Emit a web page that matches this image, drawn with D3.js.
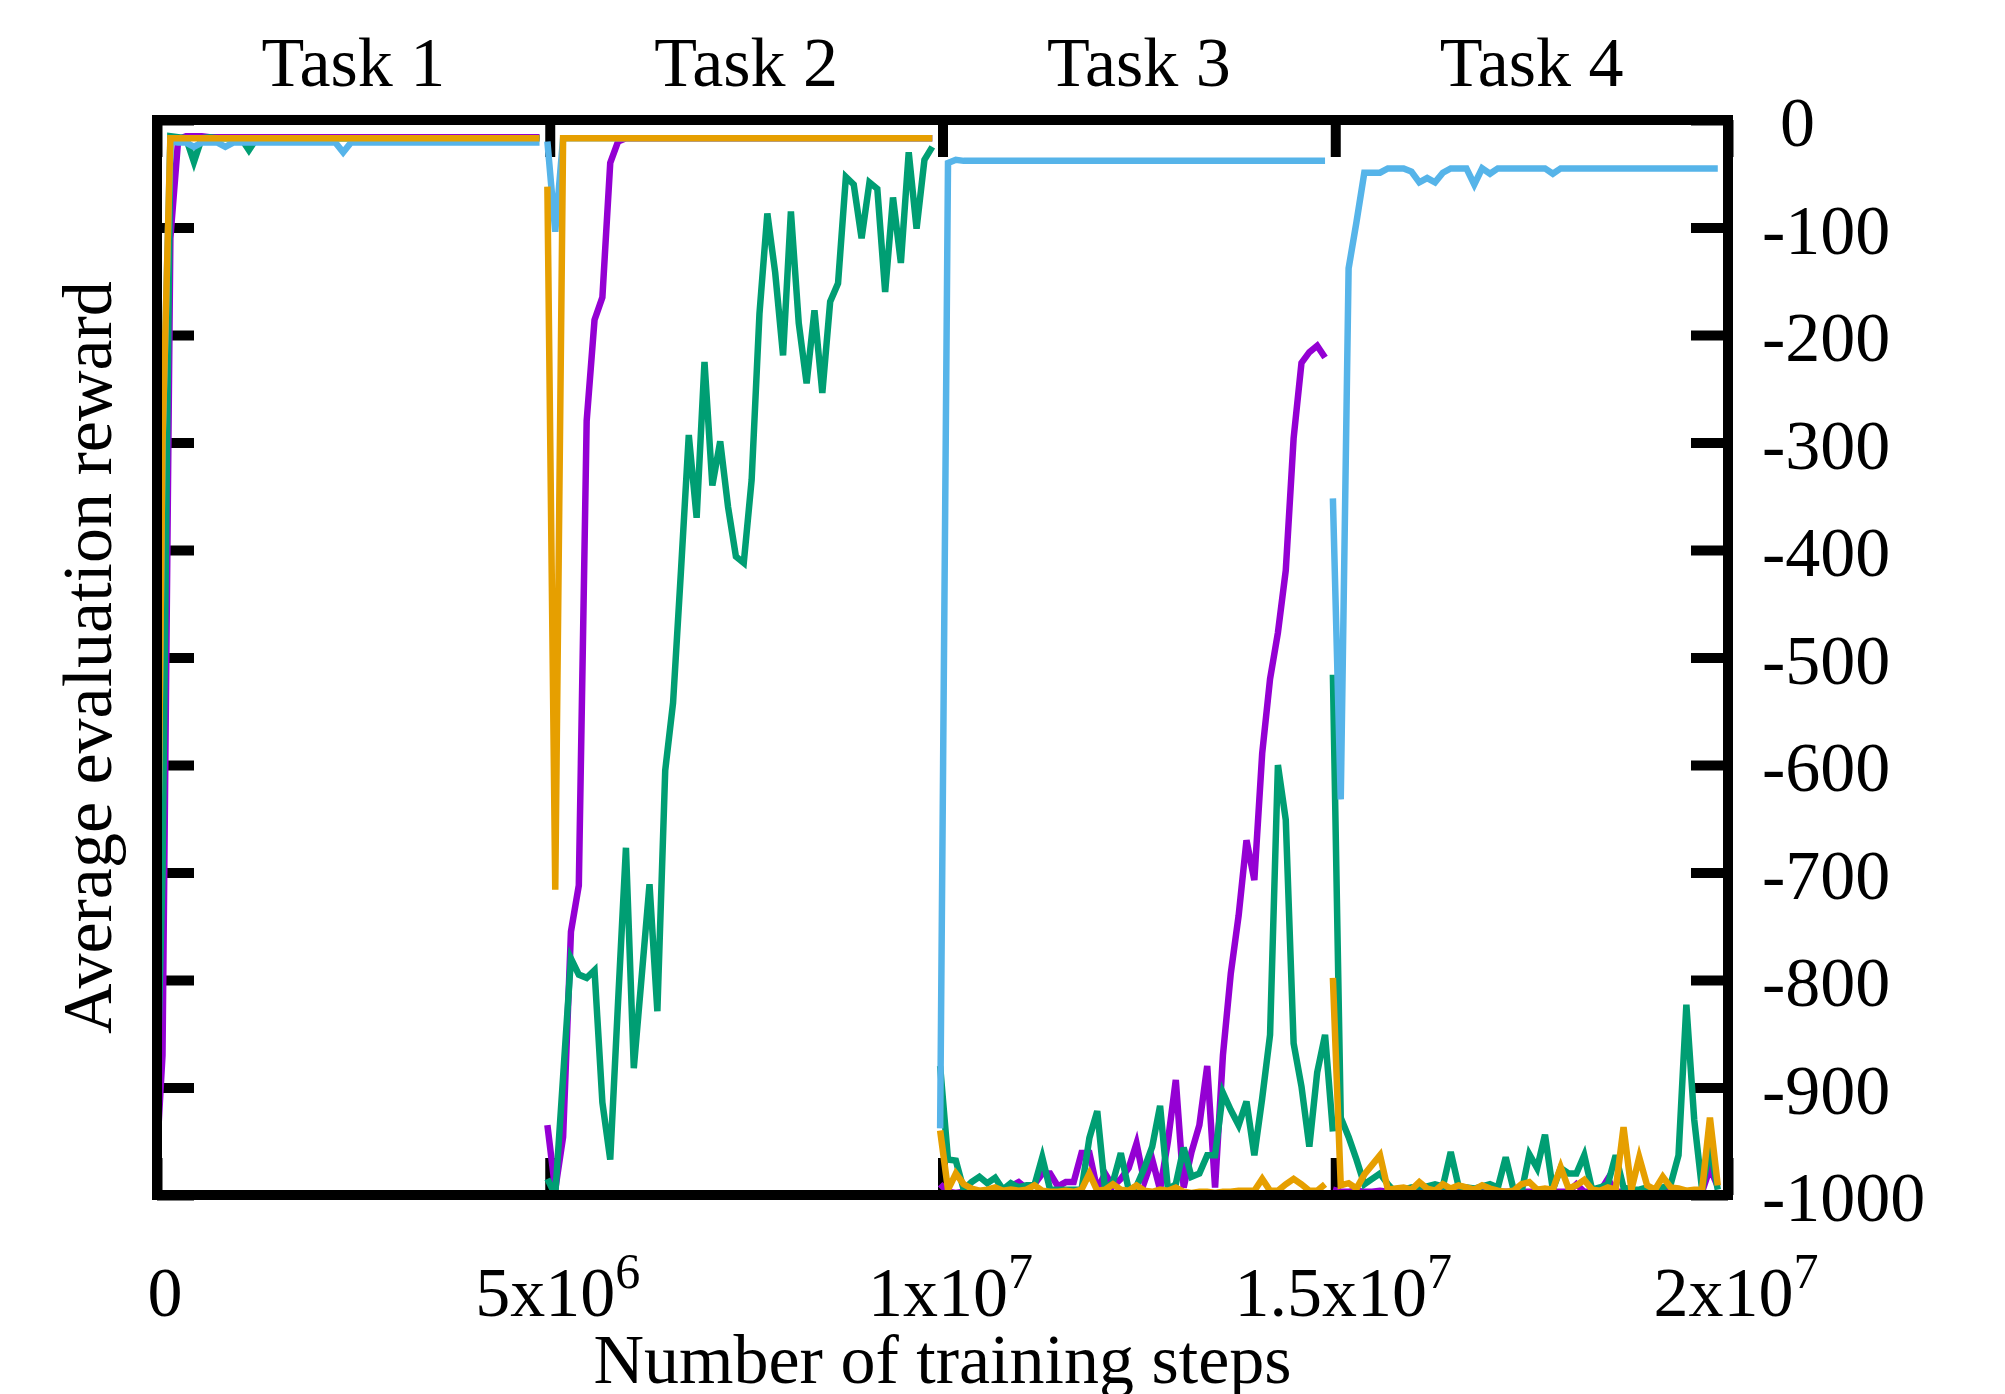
<!DOCTYPE html>
<html>
<head>
<meta charset="utf-8">
<script src="https://cdn.jsdelivr.net/npm/d3@7"></script>
<style>
  body { margin: 0; background: #fff; }
  text { font-family: "Liberation Serif", "Times New Roman", serif; fill: #000; }
</style>
</head>
<body>
<script>
// tasks, ticks and labels
var taskNames = ["Task 1", "Task 2", "Task 3", "Task 4"];
var taskLength = 5000000;
var evalEvery = 100000;
var evalShift = -30000;
var yTickValues = [0, -100, -200, -300, -400, -500, -600, -700, -800, -900, -1000];
var xTickValues = [0, 5000000, 10000000, 15000000, 20000000];
var xTickBase = ["0", "5x10", "1x10", "1.5x10", "2x10"];
var xTickExp = ["", "6", "7", "7", "7"];

// average evaluation reward, one value every 1e5 steps, per task
var purpleTask1 = [-1000, -870, -110, -18, -15, -15, -15, -16, -16, -16,
  -16, -16, -16, -16, -16, -16, -16, -16, -16, -16,
  -16, -16, -16, -16, -16, -16, -16, -16, -16, -16,
  -16, -16, -16, -16, -16, -16, -16, -16, -16, -16,
  -16, -16, -16, -16, -16, -16, -16, -16, -16, -16];
var purpleTask2 = [-935, -995, -946, -755, -712, -280, -186, -165, -40, -20,
  -17, -17, -17, -17, -17, -17, -17, -17, -17, -17,
  -17, -17, -17, -17, -17, -17, -17, -17, -17, -17,
  -17, -17, -17, -17, -17, -17, -17, -17, -17, -17,
  -17, -17, -17, -17, -17, -17, -17, -17, -17, -17];
var purpleTask3 = [-990, -997, -998, -997, -996, -998, -996, -997, -996, -992,
  -988, -994, -990, -980, -980, -992, -988, -988, -961, -961,
  -995, -980, -992, -985, -975, -952, -988, -967, -995, -950,
  -893, -993, -960, -935, -880, -993, -870, -794, -740, -670,
  -707, -589, -520, -477, -419, -296, -226, -216, -210, -221];
var purpleTask4 = [-995, -997, -997, -996, -997, -997, -996, -997, -997, -997,
  -997, -997, -997, -997, -997, -997, -997, -997, -997, -997,
  -997, -997, -997, -997, -997, -997, -997, -997, -997, -997,
  -997, -990, -997, -997, -997, -985, -997, -997, -997, -997,
  -997, -997, -997, -997, -997, -997, -997, -997, -975, -992];

var greenTask1 = [-1000, -700, -15, -16, -17, -39, -17, -16, -17, -17,
  -17, -17, -28, -17, -17, -17, -17, -17, -17, -17,
  -17, -17, -17, -17, -17, -17, -17, -17, -17, -17,
  -17, -17, -17, -17, -17, -17, -17, -17, -17, -17,
  -17, -17, -17, -17, -17, -17, -17, -17, -17, -17];
var greenTask2 = [-985, -1000, -890, -780, -795, -798, -791, -914, -967, -820,
  -677, -882, -797, -711, -829, -605, -542, -420, -293, -370,
  -225, -340, -299, -360, -406, -412, -335, -180, -87, -142,
  -219, -85, -189, -245, -177, -254, -169, -152, -53, -60,
  -110, -58, -64, -160, -72, -133, -30, -101, -37, -25];
var greenTask3 = [-880, -967, -968, -995, -988, -983, -989, -984, -995, -989,
  -993, -991, -991, -965, -995, -995, -995, -995, -995, -947,
  -922, -995, -988, -961, -995, -992, -975, -955, -917, -995,
  -990, -956, -983, -980, -963, -963, -905, -921, -935, -913,
  -963, -910, -851, -600, -651, -859, -899, -955, -886, -851, -941];
var greenTask4 = [-516, -928, -946, -967, -990, -985, -980, -990, -998, -995,
  -993, -992, -992, -990, -992, -960, -992, -993, -994, -992,
  -990, -993, -965, -995, -998, -962, -975, -944, -995, -975,
  -980, -980, -963, -995, -993, -990, -963, -993, -995, -995,
  -993, -995, -993, -990, -963, -823, -930, -995, -955, -995];

var blueTask1 = [-1000, -300, -20, -21, -21, -25, -21, -21, -21, -25,
  -21, -21, -21, -21, -21, -21, -21, -21, -21, -21,
  -21, -21, -21, -21, -30, -21, -21, -21, -21, -21,
  -21, -21, -21, -21, -21, -21, -21, -21, -21, -21,
  -21, -21, -21, -21, -21, -21, -21, -21, -21, -21];
var blueTask2 = [-20, -104, -17, -17, -17, -17, -17, -17, -17, -17,
  -17, -17, -17, -17, -17, -17, -17, -17, -17, -17,
  -17, -17, -17, -17, -17, -17, -17, -17, -17, -17,
  -17, -17, -17, -17, -17, -17, -17, -17, -17, -17,
  -17, -17, -17, -17, -17, -17, -17, -17, -17, -17];
var blueTask3 = [-938, -40, -37, -38, -38, -38, -38, -38, -38, -38,
  -38, -38, -38, -38, -38, -38, -38, -38, -38, -38,
  -38, -38, -38, -38, -38, -38, -38, -38, -38, -38,
  -38, -38, -38, -38, -38, -38, -38, -38, -38, -38,
  -38, -38, -38, -38, -38, -38, -38, -38, -38, -38];
var blueTask4 = [-352, -632, -138, -95, -49, -49, -49, -45, -45, -45,
  -48, -58, -54, -58, -49, -45, -45, -45, -60, -45,
  -50, -45, -45, -45, -45, -45, -45, -45, -50, -45,
  -45, -45, -45, -45, -45, -45, -45, -45, -45, -45,
  -45, -45, -45, -45, -45, -45, -45, -45, -45, -45];

var orangeTask1 = [-1000, -300, -17, -17, -17, -17, -17, -17, -17, -17,
  -17, -17, -17, -17, -17, -17, -17, -17, -17, -17,
  -17, -17, -17, -17, -17, -17, -17, -17, -17, -17,
  -17, -17, -17, -17, -17, -17, -17, -17, -17, -17,
  -17, -17, -17, -17, -17, -17, -17, -17, -17, -17];
var orangeTask2 = [-62, -716, -17, -17, -17, -17, -17, -17, -17, -17,
  -17, -17, -17, -17, -17, -17, -17, -17, -17, -17,
  -17, -17, -17, -17, -17, -17, -17, -17, -17, -17,
  -17, -17, -17, -17, -17, -17, -17, -17, -17, -17,
  -17, -17, -17, -17, -17, -17, -17, -17, -17, -17];
var orangeTask3 = [-940, -995, -980, -990, -994, -996, -995, -993, -996, -995,
  -996, -995, -991, -996, -997, -997, -996, -997, -995, -980,
  -996, -995, -990, -995, -996, -991, -996, -997, -995, -996,
  -993, -997, -998, -997, -997, -998, -997, -997, -996, -996,
  -996, -985, -996, -996, -990, -985, -990, -996, -996, -990];
var orangeTask4 = [-798, -991, -989, -994, -981, -972, -963, -995, -994, -993,
  -995, -988, -994, -996, -990, -994, -991, -993, -995, -991,
  -994, -996, -997, -996, -990, -988, -995, -994, -995, -974,
  -994, -991, -986, -995, -996, -993, -995, -937, -995, -965,
  -991, -995, -983, -993, -994, -996, -995, -995, -928, -991];

var seriesColors = ["#9400d3", "#009e73", "#56b4e9", "#e69f00"];
var seriesRuns = [
  [purpleTask1, purpleTask2, purpleTask3, purpleTask4],
  [greenTask1, greenTask2, greenTask3, greenTask4],
  [blueTask1, blueTask2, blueTask3, blueTask4],
  [orangeTask1, orangeTask2, orangeTask3, orangeTask4]
];

// size of svg and plot area
var margin = {top: 120, right: 277, bottom: 199, left: 157};
var fullwidth = 2005;
var fullheight = 1394;
var width = fullwidth - margin.left - margin.right;
var height = fullheight - margin.top - margin.bottom;

var svg = d3.select("body")
  .append("svg")
   .attr("width", fullwidth)
   .attr("height", fullheight);

svg.append("rect")
  .attr("width", fullwidth)
  .attr("height", fullheight)
  .attr("fill", "#fff");

var plot = svg.append("g")
  .attr("transform", "translate(" + margin.left + "," + margin.top + ")");

var xscale = d3.scaleLinear()
  .domain([0, 20000000])
  .range([0, width]);

var yscale = d3.scaleLinear()
  .domain([-1000, 0])
  .range([height, 0]);

// tick marks, all pointing inwards
var tickLen = 37;

plot.append("g")
  .attr("class", "axis")
  .call(d3.axisLeft(yscale).tickValues(yTickValues).tickSize(-tickLen).tickFormat(""));

var yRight = plot.append("g")
  .attr("class", "axis")
  .attr("transform", "translate(" + width + ",0)")
  .call(d3.axisRight(yscale).tickValues(yTickValues).tickSize(-tickLen).tickPadding(34)
    .tickFormat(function(d) { return String(d); }));

plot.append("g")
  .attr("class", "axis")
  .call(d3.axisTop(xscale).tickValues(xTickValues).tickSize(-tickLen).tickFormat(""));

plot.append("g")
  .attr("class", "axis")
  .attr("transform", "translate(0," + height + ")")
  .call(d3.axisBottom(xscale).tickValues(xTickValues).tickSize(-tickLen).tickFormat(""));

plot.selectAll(".axis .domain").remove();
plot.selectAll(".axis line")
  .attr("stroke", "#000")
  .attr("stroke-width", 10);

yRight.selectAll("text")
  .attr("font-size", 70)
  .attr("dy", "0.37em")
  .attr("font-family", "Liberation Serif, serif")
  .attr("text-anchor", "start");
yRight.selectAll("text")
  .filter(function(d) { return d === 0; })
  .attr("x", 52);

// curves, one path per task
plot.append("clipPath")
  .attr("id", "plotclip")
  .append("rect")
   .attr("width", width)
   .attr("height", height);

var line = d3.line()
  .x(function(d) { return xscale(d.step); })
  .y(function(d) { return yscale(d.reward); });

var lines = plot.append("g").attr("clip-path", "url(#plotclip)");

seriesRuns.forEach(function(runs, s) {
  runs.forEach(function(values, k) {
    var pts = values.map(function(v, i) {
      return {step: k * taskLength + i * evalEvery + evalShift, reward: v};
    });
    lines.append("path")
      .datum(pts)
      .attr("d", line)
      .attr("fill", "none")
      .attr("stroke", seriesColors[s])
      .attr("stroke-width", 6.5)
      .attr("stroke-linejoin", "miter");
  });
});

// frame
plot.append("rect")
  .attr("width", width)
  .attr("height", height)
  .attr("fill", "none")
  .attr("stroke", "#000")
  .attr("stroke-width", 10);

// task names above the plot
plot.selectAll(".taskname")
  .data(taskNames)
  .enter().append("text")
  .attr("class", "taskname")
  .attr("x", function(d, i) { return xscale((i + 0.5) * taskLength); })
  .attr("y", -34)
  .attr("font-size", 70)
  .attr("text-anchor", "middle")
  .text(function(d) { return d; });

// x tick labels with superscript exponent
var xlab = plot.selectAll(".xlabel")
  .data(xTickValues)
  .enter().append("text")
  .attr("class", "xlabel")
  .attr("x", function(d) { return xscale(d) + 8; })
  .attr("y", height + 121)
  .attr("font-size", 70)
  .attr("text-anchor", "middle");

xlab.append("tspan")
  .text(function(d, i) { return xTickBase[i]; });
xlab.append("tspan")
  .attr("font-size", 50)
  .attr("dy", -28)
  .text(function(d, i) { return xTickExp[i]; });

// axis titles
plot.append("text")
  .attr("x", width / 2)
  .attr("y", height + 188)
  .attr("font-size", 70)
  .attr("text-anchor", "middle")
  .text("Number of training steps");

plot.append("text")
  .attr("transform", "translate(" + (111 - margin.left) + "," + (height / 2) + ") rotate(-90)")
  .attr("font-size", 70)
  .attr("text-anchor", "middle")
  .text("Average evaluation reward");
</script>
</body>
</html>
